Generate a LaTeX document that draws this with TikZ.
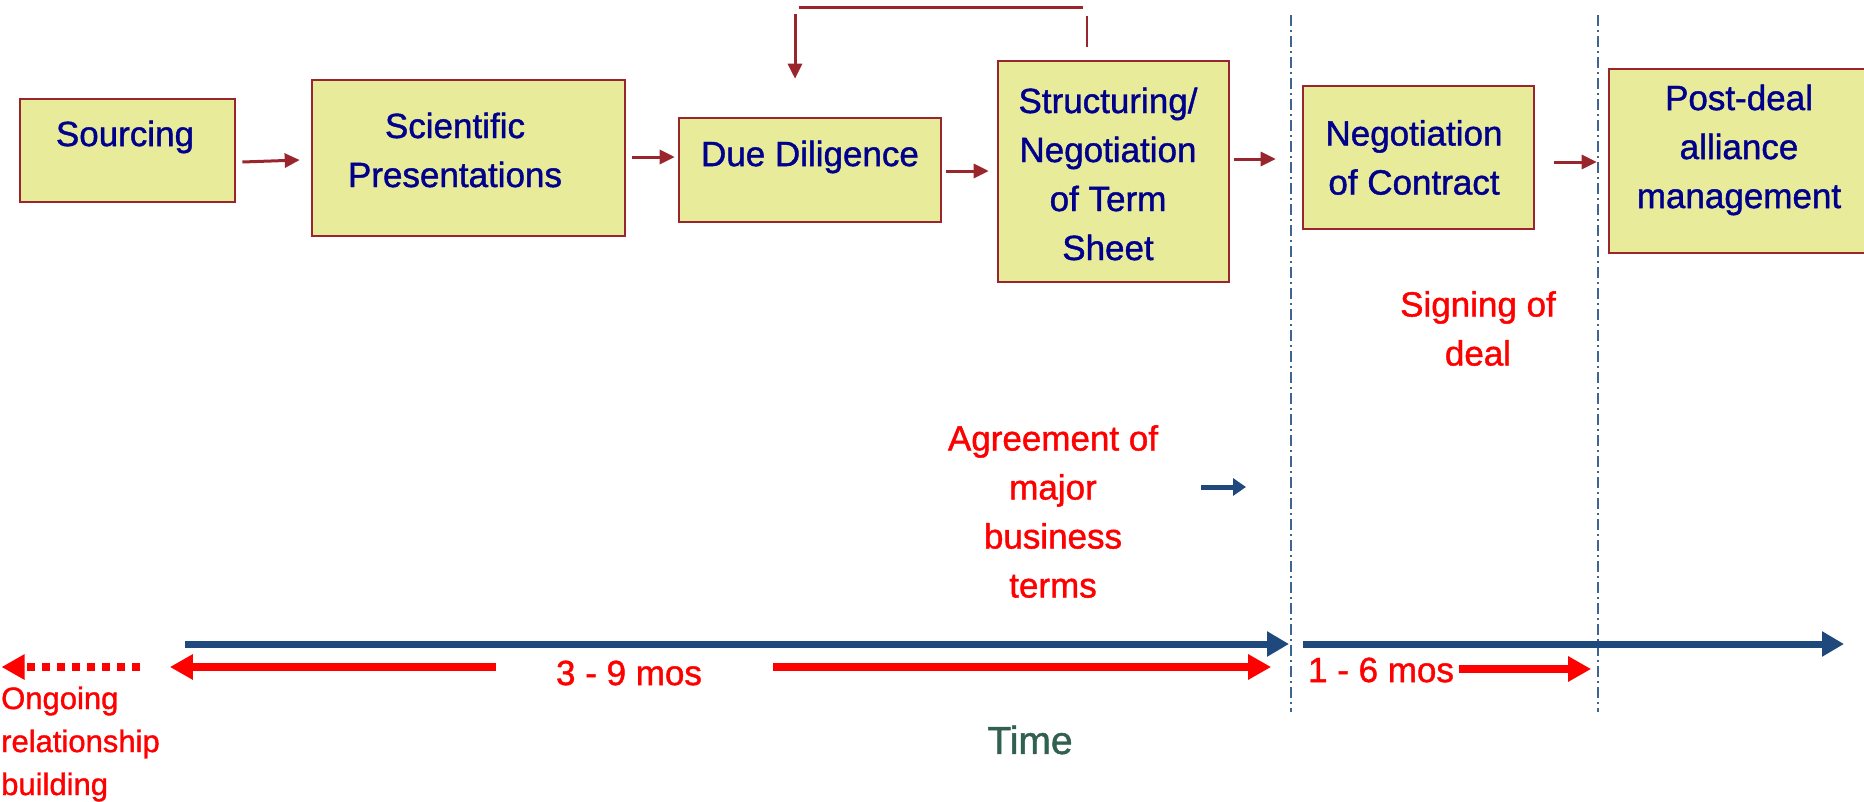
\documentclass[tikz,border=0pt]{standalone}
\usepackage{fontspec}
\setmainfont{Liberation Sans}
\newfontfamily\medfont{Liberation Sans}[FakeBold=1.2]
\usetikzlibrary{arrows.meta,calc}
\definecolor{boxfill}{RGB}{232,236,154}
\definecolor{boxline}{RGB}{152,38,44}
\definecolor{navy}{RGB}{0,0,140}
\definecolor{timeblue}{RGB}{31,73,125}
\definecolor{divblue}{RGB}{62,100,145}
\definecolor{timegreen}{RGB}{49,96,80}
\begin{document}
\begin{tikzpicture}[x=1pt,y=-1pt,
  stage/.style={draw=boxline, line width=2.6pt, fill=boxfill, inner sep=0pt},
  stagetext/.style={text=navy, font=\medfont\fontsize{35}{49}\selectfont, align=center, inner sep=0pt},
  note/.style={text=red, font=\medfont\fontsize{35}{49}\selectfont, align=center, inner sep=0pt},
  flow/.style={draw=boxline, line width=3pt, -{Triangle[length=15pt,width=14pt]}},
  feed/.style={draw=boxline, line width=2.6pt},
  divider/.style={draw=divblue, line width=2pt, dash pattern=on 11pt off 4pt on 2pt off 4pt},
  timeline/.style={draw=timeblue, line width=7pt, -{Triangle[length=22pt,width=24pt]}},
  span/.style={draw=red, line width=8pt, -{Triangle[length=23pt,width=24pt]}},
]
\useasboundingbox (0,0) rectangle (1864,801);

% process stages
\node[stage, minimum width=215pt, minimum height=103pt] (src)  at (127.5,150.5) {};
\node[stage, minimum width=313pt, minimum height=156pt] (sci)  at (468.5,158) {};
\node[stage, minimum width=262pt, minimum height=104pt] (dd)   at (810,170) {};
\node[stage, minimum width=231pt, minimum height=221pt] (str)  at (1113.5,171.5) {};
\node[stage, minimum width=231pt, minimum height=143pt] (neg)  at (1418.5,157.5) {};
\node[stage, minimum width=261pt, minimum height=184pt] (post) at (1739.5,161) {};

% stage captions
\node[stagetext] (src-t)  at (125,137) {Sourcing};
\node[stagetext] (sci-t)  at (455,150) {Scientific\\Presentations};
\node[stagetext] (dd-t)   at (810,157) {Due Diligence};
\node[stagetext] (str-t)  at (1108,174) {Structuring/\\Negotiation\\of Term\\Sheet};
\node[stagetext] (neg-t)  at (1414,157.5) {Negotiation\\of Contract};
\node[stagetext] (post-t) at (1739,150) {Post-deal\\alliance\\management};

% flow between stages
\draw[flow] ($(src.east)+(6,11.5)$) -- ($(sci.west)+(-11,2)$);
\draw[flow] ($(sci.east)+(6,-1)$) -- ($(dd.west)+(-3,-13)$);
\draw[flow] ($(dd.east)+(4,1)$) -- ($(str.west)+(-8,-0.5)$);
\draw[flow] ($(str.east)+(4,-12.5)$) -- ($(neg.west)+(-26,1.5)$);
\draw[flow] ($(neg.east)+(19,4.5)$) -- ($(post.west)+(-11,1)$);

% loop back from term sheet to due diligence
\coordinate (fbA) at ($(str.north)+(-26.5,-13)$);
\coordinate (fbB) at ($(str.north)+(-26.5,-44)$);
\coordinate (fbC) at ($(str.north)+(-30.5,-52)$);
\coordinate (fbD) at ($(dd.north)+(-11,-109)$);
\coordinate (fbE) at ($(dd.north)+(-15,-103)$);
\coordinate (fbF) at ($(dd.north)+(-15,-38)$);
\draw[feed] (fbA) -- (fbB);
\draw[feed] (fbC) -- (fbD);
\draw[flow] (fbE) -- (fbF);

% phase dividers
\coordinate (d1t) at (1291,15);  \coordinate (d1b) at (1291,712);
\coordinate (d2t) at (1598,15);  \coordinate (d2b) at (1598,712);
\draw[divider] (d1t) -- (d1b);
\draw[divider] (d2t) -- (d2b);

% milestone notes
\node[note] (sign)  at (1478,328.5) {Signing of\\deal};
\node[note] (agree) at (1053,511.5) {Agreement of\\major\\business\\terms};
\coordinate (mA) at (1201,487); \coordinate (mB) at (1246,487);
\draw[draw=timeblue, line width=5pt, -{Triangle[length=13pt,width=17pt]}] (mA) -- (mB);

% time axis
\coordinate (t1a) at (185,644);  \coordinate (t1b) at (1289,644);
\coordinate (t2a) at (1303,644); \coordinate (t2b) at (1844,644);
\draw[timeline] (t1a) -- (t1b);
\draw[timeline] (t2a) -- (t2b);

% durations
\node[note] (dur1) at (629,673) {3 - 9 mos};
\node[note] (dur2) at (1381,670) {1 - 6 mos};
\draw[span] ($(dur1.west)+(-60,-6)$) -- ($(dur1.west)+(-386,-6)$);
\draw[span] ($(dur1.east)+(71,-6)$) -- ($(dur1.east)+(569,-6)$);
\draw[span] ($(dur2.east)+(5,-1)$) -- ($(dur2.east)+(137,-1)$);

% ongoing relationship
\coordinate (oA) at (140,667); \coordinate (oB) at (1.5,667);
\draw[draw=red, line width=8pt, dash pattern=on 8pt off 7pt, -{Triangle[length=23pt,width=24pt]}] (oA) -- (oB);
\node[text=red, font=\medfont\fontsize{31}{43}\selectfont, align=left, inner sep=0pt, anchor=west] (ongo) at (1,744) {Ongoing\\relationship\\building};

\node[text=timegreen, font=\medfont\fontsize{39}{47}\selectfont, inner sep=0pt] (time) at (1030,740) {Time};
\end{tikzpicture}
\end{document}
